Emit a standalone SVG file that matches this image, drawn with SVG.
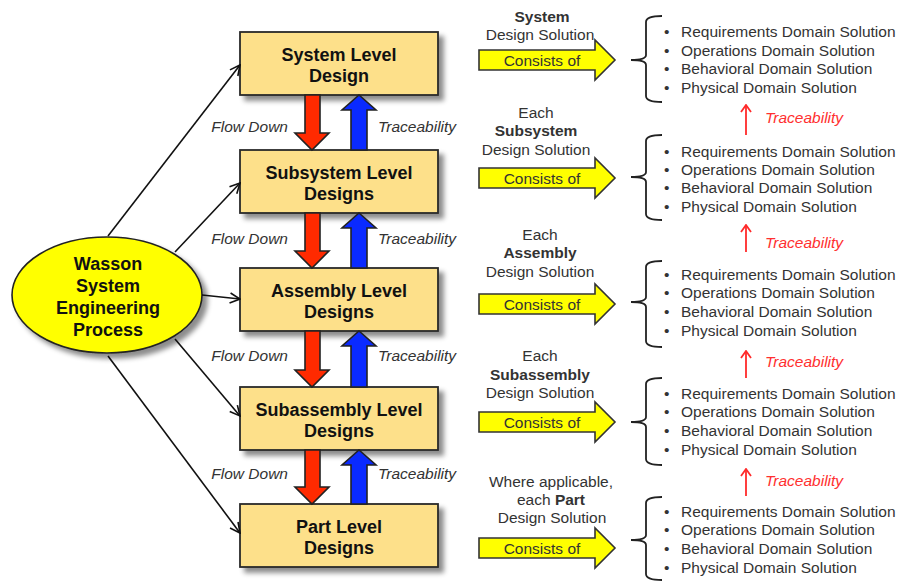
<svg xmlns="http://www.w3.org/2000/svg" width="903" height="581" viewBox="0 0 903 581">
<defs>
<filter id="sh" x="-10%" y="-10%" width="130%" height="140%">
<feGaussianBlur in="SourceAlpha" stdDeviation="2.5"/>
<feOffset dx="5" dy="5" result="b"/>
<feFlood flood-color="#000" flood-opacity="0.45"/>
<feComposite in2="b" operator="in"/>
<feMerge><feMergeNode/><feMergeNode in="SourceGraphic"/></feMerge>
</filter>
<marker id="ah" viewBox="0 0 12 12" refX="11" refY="6" markerWidth="12" markerHeight="12" markerUnits="userSpaceOnUse" orient="auto">
<path d="M1,1 L11,6 L1,11" fill="none" stroke="#111" stroke-width="1.6"/>
</marker>
<marker id="rh" viewBox="0 0 12 12" refX="6" refY="1" markerWidth="12" markerHeight="12" markerUnits="userSpaceOnUse" orient="0">
<path d="M1,8 L6,1 L11,8" fill="none" stroke="#FF2A2A" stroke-width="1.8"/>
</marker>
</defs>
<style>
.box{fill:#FDE08A;stroke:#2a2a2a;stroke-width:1.8}
.bt{font-family:"Liberation Sans",Arial,sans-serif;font-weight:bold;font-size:18px;fill:#111;text-anchor:middle}
.lbl{font-family:"Liberation Sans",Arial,sans-serif;font-style:italic;font-size:15.5px;fill:#333}
.conn{stroke:#111;stroke-width:1.6;fill:none}
.red{fill:#FF2A00;stroke:#222;stroke-width:1.6}
.blue{fill:#0A2AFF;stroke:#222;stroke-width:1.6}
.cons{fill:#FFFF00;stroke:#333;stroke-width:1.6}
.ct{font-family:"Liberation Sans",Arial,sans-serif;font-size:15.5px;fill:#333;text-anchor:middle}
.t{font-family:"Liberation Sans",Arial,sans-serif;font-size:15.5px;fill:#333}
.b{font-weight:bold}
.brace{fill:none;stroke:#222;stroke-width:1.8}
.tr{font-family:"Liberation Sans",Arial,sans-serif;font-style:italic;font-size:15.5px;fill:#FF3030}
.ra{stroke:#FF2A2A;stroke-width:1.8;fill:none}
</style>
<rect width="903" height="581" fill="#fff"/>

<g id="process">
<ellipse cx="107" cy="295" rx="95" ry="58" fill="#FFFF00" stroke="#222" stroke-width="1.6" filter="url(#sh)"/>
<text class="bt" x="108" y="270">Wasson</text>
<text class="bt" x="108" y="292">System</text>
<text class="bt" x="108" y="314">Engineering</text>
<text class="bt" x="108" y="336">Process</text>
</g>

<g id="system-level">
<rect class="box" x="240" y="32" width="198" height="63" filter="url(#sh)"/>
<text class="bt" x="339" y="61">System Level</text>
<text class="bt" x="339" y="82">Design</text>
</g>
<g id="subsystem-level">
<rect class="box" x="240" y="150" width="198" height="63" filter="url(#sh)"/>
<text class="bt" x="339" y="179">Subsystem Level</text>
<text class="bt" x="339" y="200">Designs</text>
</g>
<g id="assembly-level">
<rect class="box" x="240" y="268" width="198" height="63" filter="url(#sh)"/>
<text class="bt" x="339" y="297">Assembly Level</text>
<text class="bt" x="339" y="318">Designs</text>
</g>
<g id="subassembly-level">
<rect class="box" x="240" y="387" width="198" height="63" filter="url(#sh)"/>
<text class="bt" x="339" y="416">Subassembly Level</text>
<text class="bt" x="339" y="437">Designs</text>
</g>
<g id="part-level">
<rect class="box" x="240" y="504" width="198" height="63" filter="url(#sh)"/>
<text class="bt" x="339" y="533">Part Level</text>
<text class="bt" x="339" y="554">Designs</text>
</g>

<g id="connectors">
<line class="conn" x1="108" y1="236" x2="240" y2="65" marker-end="url(#ah)"/>
<line class="conn" x1="175" y1="252" x2="240" y2="183" marker-end="url(#ah)"/>
<line class="conn" x1="202" y1="295" x2="240" y2="299" marker-end="url(#ah)"/>
<line class="conn" x1="175" y1="339" x2="240" y2="416" marker-end="url(#ah)"/>
<line class="conn" x1="108" y1="356" x2="240" y2="533" marker-end="url(#ah)"/>

<path class="red" d="M305,95 H320 V133 H329 L312,150 L295,133 H305 Z"/>
<path class="blue" d="M351,150 V110 H342 L359,95 L376,110 H367 V150 Z"/>
<path class="red" d="M305,213 H320 V251 H329 L312,268 L295,251 H305 Z"/>
<path class="blue" d="M351,268 V228 H342 L359,213 L376,228 H367 V268 Z"/>
<path class="red" d="M305,331 H320 V370 H329 L312,387 L295,370 H305 Z"/>
<path class="blue" d="M351,387 V346 H342 L359,331 L376,346 H367 V387 Z"/>
<path class="red" d="M305,450 H320 V487 H329 L312,504 L295,487 H305 Z"/>
<path class="blue" d="M351,504 V465 H342 L359,450 L376,465 H367 V504 Z"/>

<text class="lbl" x="288" y="132" text-anchor="end">Flow Down</text>
<text class="lbl" x="378" y="132">Traceability</text>
<text class="lbl" x="288" y="244" text-anchor="end">Flow Down</text>
<text class="lbl" x="378" y="244">Traceability</text>
<text class="lbl" x="288" y="361" text-anchor="end">Flow Down</text>
<text class="lbl" x="378" y="361">Traceability</text>
<text class="lbl" x="288" y="479" text-anchor="end">Flow Down</text>
<text class="lbl" x="378" y="479">Traceability</text>

<path class="cons" d="M479,50 H595 V40 L615,60 L595,80 V70 H479 Z"/>
<path class="cons" d="M479,168 H595 V158 L615,178 L595,198 V188 H479 Z"/>
<path class="cons" d="M479,294 H595 V284 L615,304 L595,324 V314 H479 Z"/>
<path class="cons" d="M479,412 H595 V402 L615,422 L595,442 V432 H479 Z"/>
<path class="cons" d="M479,538 H595 V528 L615,548 L595,568 V558 H479 Z"/>
<text class="ct" x="542" y="66">Consists of</text>
<text class="ct" x="542" y="184">Consists of</text>
<text class="ct" x="542" y="310">Consists of</text>
<text class="ct" x="542" y="428">Consists of</text>
<text class="ct" x="542" y="554">Consists of</text>

<path class="brace" d="M662,16 Q646,16 646,22 V55 Q646,60 631,60 Q646,60 646,65 V96 Q646,102 662,102"/>
<path class="brace" d="M662,135 Q646,135 646,141 V172 Q646,177 631,177 Q646,177 646,182 V214 Q646,220 662,220"/>
<path class="brace" d="M662,261 Q646,261 646,267 V297 Q646,302 631,302 Q646,302 646,307 V341 Q646,347 662,347"/>
<path class="brace" d="M662,378 Q646,378 646,384 V417 Q646,422 631,422 Q646,422 646,427 V459 Q646,465 662,465"/>
<path class="brace" d="M662,497 Q646,497 646,503 V535 Q646,540 631,540 Q646,540 646,545 V574 Q646,580 662,580"/>

<line class="ra" x1="746" y1="135" x2="746" y2="105" marker-end="url(#rh)"/>
<line class="ra" x1="746" y1="252" x2="746" y2="225" marker-end="url(#rh)"/>
<line class="ra" x1="746" y1="378" x2="746" y2="351" marker-end="url(#rh)"/>
<line class="ra" x1="746" y1="496" x2="746" y2="469" marker-end="url(#rh)"/>
<text class="tr" x="765" y="123">Traceability</text>
<text class="tr" x="765" y="248">Traceability</text>
<text class="tr" x="765" y="367">Traceability</text>
<text class="tr" x="765" y="486">Traceability</text>
</g>

<g id="system-solution">
<text class="ct b" x="542" y="22">System</text>
<text class="ct" x="540" y="40">Design Solution</text>
</g>
<g id="subsystem-solution">
<text class="ct" x="536" y="118">Each</text>
<text class="ct b" x="536" y="136">Subsystem</text>
<text class="ct" x="536" y="155">Design Solution</text>
</g>
<g id="assembly-solution">
<text class="ct" x="540" y="240">Each</text>
<text class="ct b" x="540" y="258">Assembly</text>
<text class="ct" x="540" y="277">Design Solution</text>
</g>
<g id="subassembly-solution">
<text class="ct" x="540" y="361">Each</text>
<text class="ct b" x="540" y="380">Subassembly</text>
<text class="ct" x="540" y="398">Design Solution</text>
</g>
<g id="part-solution">
<text class="ct" x="551" y="487">Where applicable,</text>
<text class="ct" x="551" y="505">each <tspan class="b">Part</tspan></text>
<text class="ct" x="552" y="523">Design Solution</text>
</g>

<g id="system-domains">
<text class="t" x="664" y="37">•</text><text class="t" x="681" y="37">Requirements Domain Solution</text>
<text class="t" x="664" y="56">•</text><text class="t" x="681" y="56">Operations Domain Solution</text>
<text class="t" x="664" y="74">•</text><text class="t" x="681" y="74">Behavioral Domain Solution</text>
<text class="t" x="664" y="93">•</text><text class="t" x="681" y="93">Physical Domain Solution</text>
</g>
<g id="subsystem-domains">
<text class="t" x="664" y="157">•</text><text class="t" x="681" y="157">Requirements Domain Solution</text>
<text class="t" x="664" y="175">•</text><text class="t" x="681" y="175">Operations Domain Solution</text>
<text class="t" x="664" y="193">•</text><text class="t" x="681" y="193">Behavioral Domain Solution</text>
<text class="t" x="664" y="212">•</text><text class="t" x="681" y="212">Physical Domain Solution</text>
</g>
<g id="assembly-domains">
<text class="t" x="664" y="280">•</text><text class="t" x="681" y="280">Requirements Domain Solution</text>
<text class="t" x="664" y="298">•</text><text class="t" x="681" y="298">Operations Domain Solution</text>
<text class="t" x="664" y="317">•</text><text class="t" x="681" y="317">Behavioral Domain Solution</text>
<text class="t" x="664" y="336">•</text><text class="t" x="681" y="336">Physical Domain Solution</text>
</g>
<g id="subassembly-domains">
<text class="t" x="664" y="399">•</text><text class="t" x="681" y="399">Requirements Domain Solution</text>
<text class="t" x="664" y="417">•</text><text class="t" x="681" y="417">Operations Domain Solution</text>
<text class="t" x="664" y="436">•</text><text class="t" x="681" y="436">Behavioral Domain Solution</text>
<text class="t" x="664" y="455">•</text><text class="t" x="681" y="455">Physical Domain Solution</text>
</g>
<g id="part-domains">
<text class="t" x="664" y="517">•</text><text class="t" x="681" y="517">Requirements Domain Solution</text>
<text class="t" x="664" y="535">•</text><text class="t" x="681" y="535">Operations Domain Solution</text>
<text class="t" x="664" y="554">•</text><text class="t" x="681" y="554">Behavioral Domain Solution</text>
<text class="t" x="664" y="573">•</text><text class="t" x="681" y="573">Physical Domain Solution</text>
</g>
</svg>
